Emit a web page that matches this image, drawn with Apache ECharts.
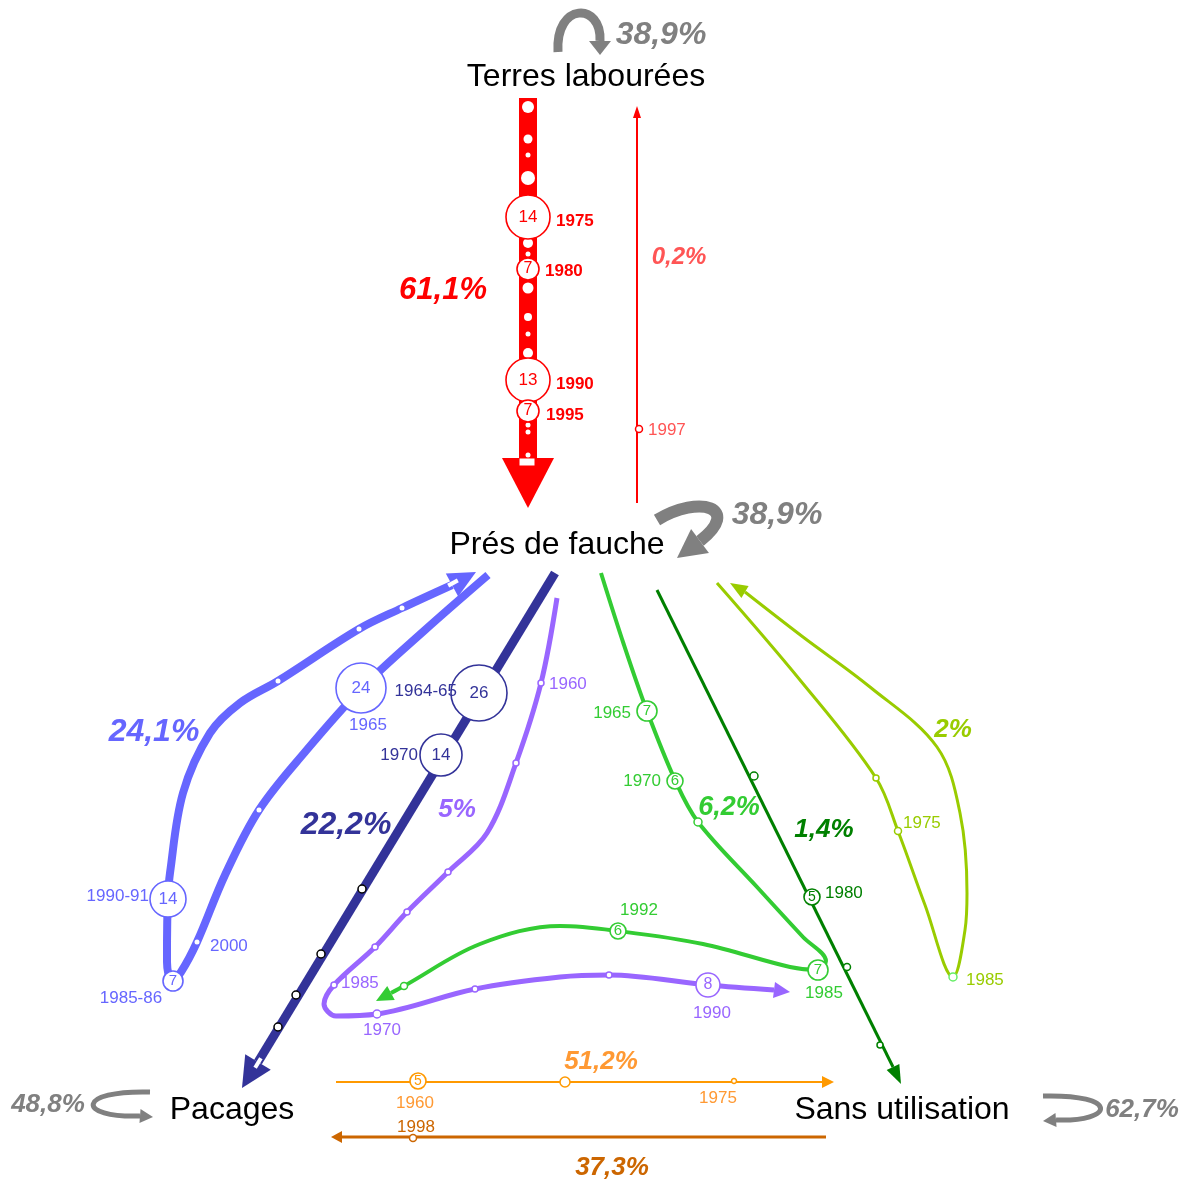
<!DOCTYPE html>
<html><head><meta charset="utf-8">
<script src="https://cdn.jsdelivr.net/npm/echarts@6/dist/echarts.min.js"></script>
<style>html,body{margin:0;padding:0;background:#fff}#c{width:1187px;height:1183px}</style>
</head><body><div id="c"></div>
<script>
// ---------------- DATA ----------------
const nodeNames = ['Terres labourées', 'Prés de fauche', 'Pacages', 'Sans utilisation'];
const nodePos = [[586, 77], [557, 545], [232, 1110], [902, 1110]];

// flow paths (diagram coordinates); last point = arrow tip
const pathTlPf = [[528, 98], [528, 458], [528, 508]];
const pathPfTl = [[637, 503], [637, 118], [637, 106]];
const pathPfPac = [[488, 575], [425, 630], [362, 688], [305, 752], [259, 810], [225, 875], [197, 942], [181, 972], [172, 981], [167, 962], [167, 943], [168, 898], [170, 873], [183, 793], [210, 733], [240, 703], [278, 681], [359, 629], [402, 608], [452, 585], [476, 572]];
const pathPfPacD = [[555, 573], [258, 1062], [242, 1088]];
const pathPurple = [[557, 598], [541, 683], [516, 763], [487, 833], [448, 872], [407, 912], [375, 947], [334, 985], [324, 1004], [336, 1016], [377, 1014], [475, 989], [560, 977], [609, 975], [708, 985], [774, 990], [790, 992]];
const pathGreen = [[601, 573], [624, 645], [647, 711], [675, 780], [698, 822], [757, 887], [803, 937], [826, 961], [818, 970], [790, 967], [703, 944], [618, 931], [560, 926], [480, 944], [404, 986], [391, 993], [376, 1001]];
const pathDGreen = [[657, 590], [893, 1067], [901, 1084]];
const pathYGreen = [[717, 583], [800, 680], [876, 778], [898, 831], [925, 905], [953, 977], [965, 930], [967, 893], [960, 813], [937, 747], [870, 687], [803, 637], [745, 592], [730, 583]];
const pathOrange = [[336, 1082], [822, 1082], [834, 1082]];
const pathBrown = [[826, 1137], [342, 1137], [331, 1137]];

// numbered circles: [x, y, value, flow]
const circleMarkers = [
  [528, 217, 14, 'tlPf'], [528, 269, 7, 'tlPf'], [528, 380, 13, 'tlPf'], [528, 411, 7, 'tlPf'],
  [361, 688, 24, 'pfPac'], [168, 899, 14, 'pfPac'], [173, 981, 7, 'pfPac'],
  [479, 693, 26, 'pfPacD'], [441, 755, 14, 'pfPacD'],
  [708, 985, 8, 'purple'],
  [647, 711, 7, 'green'], [675, 781, 6, 'green'], [818, 970, 7, 'green'], [618, 931, 6, 'green'],
  [812, 897, 5, 'dgreen'],
  [418, 1081, 5, 'orange']
];

// small year dots: [x, y, flow]
const yearDots = [
  [528, 107, 'tlPfW'], [528, 139, 'tlPfW'], [528, 155, 'tlPfW'], [528, 178, 'tlPfW'], [528, 243, 'tlPfW'], [528, 254, 'tlPfW'],
  [528, 288, 'tlPfW'], [528, 317, 'tlPfW'], [528, 334, 'tlPfW'], [528, 353, 'tlPfW'], [528, 425, 'tlPfW'], [528, 432, 'tlPfW'], [528, 455, 'tlPfW'],
  [639, 429, 'pfTl'],
  [402, 608, 'pfPacW'], [359, 629, 'pfPacW'], [278, 681, 'pfPacW'], [259, 810, 'pfPacW'], [197, 942, 'pfPacW'],
  [362, 889, 'pfPacDB'], [321, 954, 'pfPacDB'], [296, 995, 'pfPacDB'], [278, 1027, 'pfPacDB'],
  [541, 683, 'purple'], [516, 763, 'purple'], [448, 872, 'purple'], [407, 912, 'purple'], [375, 947, 'purple'], [334, 985, 'purple'], [377, 1014, 'purple'], [475, 989, 'purple'], [609, 975, 'purple'],
  [698, 822, 'green'], [404, 986, 'green'],
  [754, 776, 'dgreen'], [847, 967, 'dgreen'], [880, 1045, 'dgreen'],
  [876, 778, 'ygreen'], [898, 831, 'ygreen'], [953, 977, 'ygreenL'],
  [565, 1082, 'orange'], [734, 1081, 'orange'],
  [413, 1138, 'brown']
];

// year labels: [x, y, text, flow, align]
const yearLabels = [
  [556, 221, '1975', 'tlPf', 'left'], [545, 271, '1980', 'tlPf', 'left'], [556, 384, '1990', 'tlPf', 'left'], [546, 415, '1995', 'tlPf', 'left'],
  [648, 430, '1997', 'pfTl', 'left'],
  [368, 725, '1965', 'pfPac', 'center'], [149, 896, '1990-91', 'pfPac', 'right'], [210, 946, '2000', 'pfPac', 'left'], [131, 998, '1985-86', 'pfPac', 'center'],
  [457, 691, '1964-65', 'pfPacD', 'right'], [418, 755, '1970', 'pfPacD', 'right'],
  [549, 684, '1960', 'purple', 'left'], [341, 983, '1985', 'purple', 'left'], [382, 1030, '1970', 'purple', 'center'], [712, 1013, '1990', 'purple', 'center'],
  [631, 713, '1965', 'green', 'right'], [661, 781, '1970', 'green', 'right'], [639, 910, '1992', 'green', 'center'], [824, 993, '1985', 'green', 'center'],
  [825, 893, '1980', 'dgreen', 'left'],
  [903, 823, '1975', 'ygreen', 'left'], [966, 980, '1985', 'ygreen', 'left'],
  [415, 1103, '1960', 'orange', 'center'], [718, 1098, '1975', 'orange', 'center'],
  [416, 1127, '1998', 'brown', 'center']
];

// flow shares: [x, y, text, flow]
const shareLabels = [
  [661, 35, '38,9%', 'loop'], [777, 515, '38,9%', 'loop'],
  [443, 290, '61,1%', 'tlPf'], [679, 257, '0,2%', 'pfTl'],
  [154, 732, '24,1%', 'pfPac'], [346, 825, '22,2%', 'pfPacD'], [457, 810, '5%', 'purple'],
  [729, 808, '6,2%', 'green'], [824, 830, '1,4%', 'dgreen'], [953, 730, '2%', 'ygreen'],
  [601, 1062, '51,2%', 'orange'], [612, 1168, '37,3%', 'brown'],
  [48, 1105, '48,8%', 'loop'], [1142, 1110, '62,7%', 'loop']
];

// self loops (stay in same use): [start, ctrl1, ctrl2, end, arrowTip]
const selfLoops = [
  [[558, 52], [555, 2], [602, 2], [600, 41], [600, 55]],
  [[657, 520], [700, 494], [742, 508], [700, 541], [677, 558]],
  [[150, 1092], [76, 1090], [76, 1118], [140, 1116], [153, 1117]],
  [[1043, 1096], [1120, 1094], [1115, 1122], [1056, 1120], [1043, 1121]]
];

// last-year marks near arrow heads: [x, y, flow]
const endMarks = [[527, 462, 'tlPf'], [453, 583, 'pfPac'], [258, 1063, 'pfPacD']];

// ---------------- STYLE ----------------
const FONT = '"Liberation Sans", Arial, sans-serif';
const FLOW = {
  tlPf:   {color: '#ff0000', width: 18, half: 26, smooth: false, label: '#ff0000'},
  pfTl:   {color: '#ff0000', width: 2, half: 4, smooth: false, label: '#ff5555'},
  pfPac:  {color: '#6666ff', width: 8, half: 13, smooth: 0.35, label: '#6666ff'},
  pfPacD: {color: '#333399', width: 9, half: 15, smooth: false, label: '#333399'},
  purple: {color: '#9966ff', width: 5, half: 8, smooth: 0.35, label: '#9966ff'},
  green:  {color: '#33cc33', width: 4, half: 8, smooth: 0.35, label: '#33cc33'},
  dgreen: {color: '#008000', width: 3, half: 7, smooth: false, label: '#008000'},
  ygreen: {color: '#99cc00', width: 3, half: 7, smooth: 0.35, label: '#99cc00'},
  orange: {color: '#ff9900', width: 2, half: 6, smooth: false, label: '#ff9933'},
  brown:  {color: '#cc6600', width: 3, half: 6, smooth: false, label: '#cc6600'},
  loop:   {color: '#808080', label: '#808080'}
};
const paths = {tlPf: pathTlPf, pfTl: pathPfTl, pfPac: pathPfPac, pfPacD: pathPfPacD, purple: pathPurple,
  green: pathGreen, dgreen: pathDGreen, ygreen: pathYGreen, orange: pathOrange, brown: pathBrown};
const circleR = [22, 11, 22, 11, 25, 18, 10, 28, 21, 12, 10, 8, 10, 8, 8, 8];
const circleFont = [17, 16, 17, 16, 17, 17, 15, 17, 17, 16, 15, 15, 15, 15, 14, 14];
const dotR = [6, 4.5, 2.5, 7, 5, 2.5, 5.5, 4, 2.5, 5, 2.5, 2.5, 2.5,
  3.5,
  2.5, 2.5, 2.5, 2.5, 2.5,
  4, 4, 4, 4,
  3, 3, 3, 3, 3, 3, 4, 3, 3,
  4, 3.5,
  4, 3.5, 3,
  3, 3.5, 4,
  5, 2.5,
  3.5];
const DOTSTYLE = {
  tlPfW: {fill: '#fff', border: null}, pfPacW: {fill: '#fff', border: null},
  pfPacDB: {fill: '#fff', border: '#000'}, ygreenL: {fill: '#fff', border: '#66ee66'}
};
const shareFont = [32, 32, 31, 24, 32, 32, 26, 27, 26, 26, 26, 26, 26, 26];
const endMarkSize = {tlPf: [15, 7], pfPac: [4, 11], pfPacD: [4, 11]};
const loopStyle = [{w: 9, half: 11}, {w: 12, half: 15}, {w: 5, half: 7}, {w: 5, half: 7}];

// ---------------- BUILD ----------------
const series = [];
const flowKeys = Object.keys(paths);
flowKeys.forEach(k => {
  const st = FLOW[k];
  series.push({
    type: 'line', data: paths[k].slice(0, -1), smooth: st.smooth, showSymbol: false, symbol: 'none',
    lineStyle: {color: st.color, width: st.width, cap: 'butt', join: 'round', opacity: 1}, z: 2, silent: true, clip: false
  });
});
// arrow heads
series.push({
  type: 'custom', coordinateSystem: 'cartesian2d', z: 3, silent: true, clip: false,
  data: flowKeys.map(k => paths[k][paths[k].length - 1]),
  renderItem: (params, api) => {
    const k = flowKeys[params.dataIndex], p = paths[k];
    const tip = api.coord(p[p.length - 1]), prev = api.coord(p[p.length - 2]);
    const dx = tip[0] - prev[0], dy = tip[1] - prev[1], L = Math.hypot(dx, dy);
    const ux = dx / L, uy = dy / L, hw = FLOW[k].half;
    return {type: 'polygon', shape: {points: [tip, [prev[0] - uy * hw, prev[1] + ux * hw], [prev[0] + uy * hw, prev[1] - ux * hw]]},
      style: {fill: FLOW[k].color}};
  }
});
// end marks (white rectangles)
series.push({
  type: 'custom', coordinateSystem: 'cartesian2d', z: 4, silent: true, clip: false,
  data: endMarks.map(m => [m[0], m[1]]),
  renderItem: (params, api) => {
    const m = endMarks[params.dataIndex], p = paths[m[2]];
    const c = api.coord([m[0], m[1]]);
    const a = api.coord(p[p.length - 1]), b = api.coord(p[p.length - 2]);
    const ang = Math.atan2(a[1] - b[1], a[0] - b[0]) - Math.PI / 2;
    const sz = endMarkSize[m[2]];
    return {type: 'rect', x: c[0], y: c[1], rotation: -ang,
      shape: {x: -sz[0] / 2, y: -sz[1] / 2, width: sz[0], height: sz[1]}, style: {fill: '#fff'}};
  }
});
// self loops
series.push({
  type: 'custom', coordinateSystem: 'cartesian2d', z: 3, silent: true, clip: false,
  data: selfLoops.map(l => l[0]),
  renderItem: (params, api) => {
    const l = selfLoops[params.dataIndex], st = loopStyle[params.dataIndex];
    const P = l.map(q => api.coord(q));
    const tip = P[4], base = P[3];
    const dx = tip[0] - base[0], dy = tip[1] - base[1], L = Math.hypot(dx, dy);
    const ux = dx / L, uy = dy / L, hw = st.half;
    return {type: 'group', children: [
      {type: 'bezierCurve', shape: {x1: P[0][0], y1: P[0][1], cpx1: P[1][0], cpy1: P[1][1], cpx2: P[2][0], cpy2: P[2][1], x2: P[3][0], y2: P[3][1]},
        style: {stroke: '#808080', lineWidth: st.w, fill: null}},
      {type: 'polygon', shape: {points: [tip, [base[0] - uy * hw, base[1] + ux * hw], [base[0] + uy * hw, base[1] - ux * hw]]},
        style: {fill: '#808080'}}
    ]};
  }
});
// small dots
series.push({
  type: 'scatter', z: 5, silent: true, clip: false, itemStyle: {opacity: 1},
  data: yearDots.map((d, i) => {
    const ds = DOTSTYLE[d[2]];
    const col = ds ? ds.border : FLOW[d[2]].color;
    return {value: [d[0], d[1]], symbolSize: dotR[i] * 2,
      itemStyle: {color: '#fff', borderColor: col || '#fff', borderWidth: col ? 1.5 : 0, opacity: 1}};
  })
});
// numbered circles
series.push({
  type: 'scatter', z: 6, silent: true, clip: false, itemStyle: {opacity: 1},
  data: circleMarkers.map((c, i) => ({
    value: [c[0], c[1]], name: String(c[2]), symbolSize: circleR[i] * 2,
    itemStyle: {color: '#fff', borderColor: FLOW[c[3]].color, borderWidth: 1.6, opacity: 1},
    label: {show: true, position: 'inside', formatter: '{b}', color: FLOW[c[3]].color, fontSize: circleFont[i], fontFamily: FONT}
  }))
});
const textSeries = (data) => ({type: 'scatter', z: 7, silent: true, clip: false, symbolSize: 0,
  itemStyle: {opacity: 1, color: 'rgba(0,0,0,0)'}, data: data});
// year labels
series.push(textSeries(yearLabels.map(t => ({
  value: [t[0], t[1]], name: t[2],
  label: {show: true, position: [0, 0], align: t[4], verticalAlign: 'middle', formatter: '{b}',
    color: t[3] === 'tlPf' ? '#ff0000' : FLOW[t[3]].label, fontSize: 17, fontFamily: FONT,
    fontWeight: t[3] === 'tlPf' ? 'bold' : 'normal', opacity: 1}
}))));
// share labels
series.push(textSeries(shareLabels.map((t, i) => ({
  value: [t[0], t[1]], name: t[2],
  label: {show: true, position: [0, 0], align: 'center', verticalAlign: 'middle', formatter: '{b}',
    color: FLOW[t[3]].label, fontSize: shareFont[i], fontFamily: FONT, fontWeight: 'bold', fontStyle: 'italic', opacity: 1}
}))));
// node names
series.push(textSeries(nodeNames.map((n, i) => ({
  value: nodePos[i], name: n,
  label: {show: true, position: [0, 0], align: 'center', verticalAlign: 'middle', formatter: '{b}',
    color: '#000', fontSize: 32, fontFamily: FONT, opacity: 1}
}))));

const chart = echarts.init(document.getElementById('c'));
chart.setOption({
  animation: false,
  backgroundColor: '#fff',
  grid: {left: 0, right: 0, top: 0, bottom: 0},
  xAxis: {type: 'value', min: 0, max: 1187, show: false},
  yAxis: {type: 'value', min: 0, max: 1183, inverse: true, show: false},
  series: series
});
</script></body></html>
